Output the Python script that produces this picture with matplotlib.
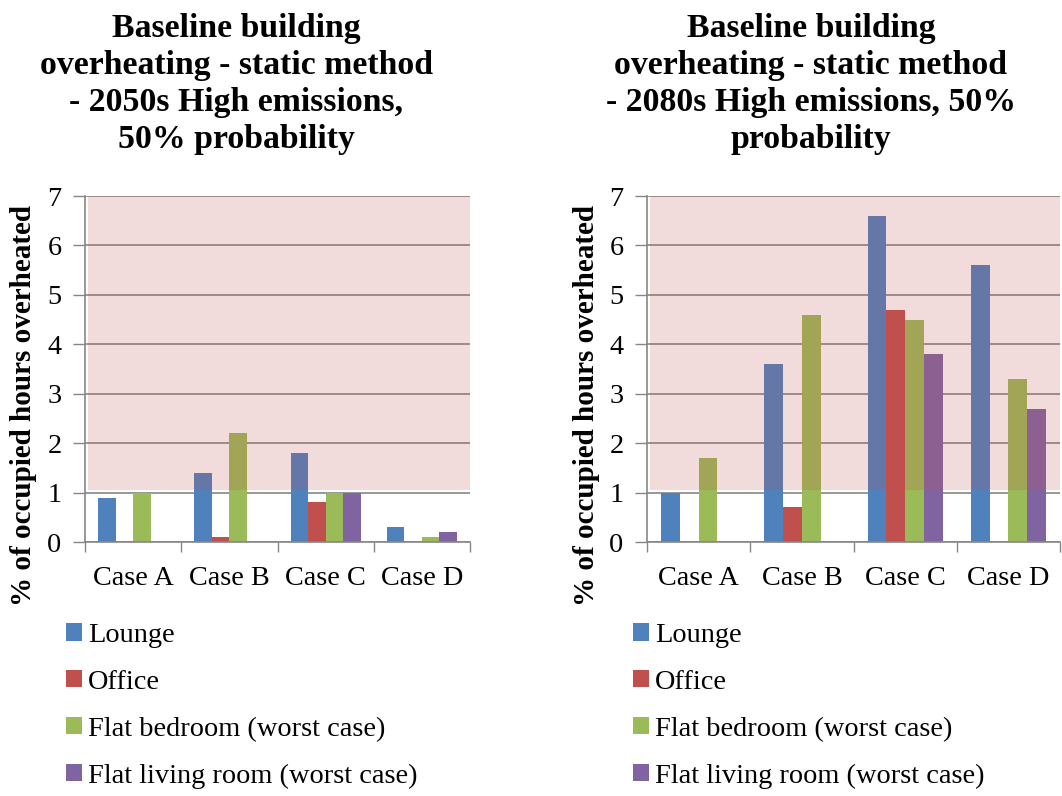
import matplotlib
matplotlib.use("Agg")
import matplotlib.pyplot as plt
import numpy as np
from matplotlib.patches import Rectangle, Patch

plt.rcParams['font.family'] = ['Liberation Serif', 'DejaVu Serif']

categories = ["Case A", "Case B", "Case C", "Case D"]
series_names = ["Lounge", "Office", "Flat bedroom (worst case)", "Flat living room (worst case)"]
colors = ["#4F81BD", "#C0504D", "#9BBB59", "#8064A2"]

# 2050s High emissions, 50% probability
lounge_2050 = [0.9, 1.4, 1.8, 0.3]
office_2050 = [0.0, 0.1, 0.8, 0.0]
bedroom_2050 = [1.0, 2.2, 1.0, 0.1]
living_2050 = [0.0, 0.0, 1.0, 0.2]

# 2080s High emissions, 50% probability
lounge_2080 = [1.0, 3.6, 6.6, 5.6]
office_2080 = [0.0, 0.7, 4.7, 0.0]
bedroom_2080 = [1.7, 4.6, 4.5, 3.3]
living_2080 = [0.0, 0.0, 3.8, 2.7]

titles = [
    "Baseline building\noverheating - static method\n- 2050s High emissions,\n50% probability",
    "Baseline building\noverheating - static method\n- 2080s High emissions, 50%\nprobability",
]
ylabel = "% of occupied hours overheated"
yticks = [0, 1, 2, 3, 4, 5, 6, 7]
threshold = 1.06

W, H = 1062, 796
fig = plt.figure(figsize=(W / 100, H / 100), dpi=100)

grid_color = "#868686"

def px_axes(x0, x1, ytop, ybot):
    return [x0 / W, 1 - ybot / H, (x1 - x0) / W, (ybot - ytop) / H]

# axes rect, data, title x, legend x, ylabel x
panels = [
    (px_axes(85, 470, 196, 542), [lounge_2050, office_2050, bedroom_2050, living_2050], 236, 66, 24),
    (px_axes(647, 1060, 196, 542), [lounge_2080, office_2080, bedroom_2080, living_2080], 811, 633, 586),
]

n = len(series_names)
bw = 1 / 5.5
x = np.arange(len(categories))

for (rect, data, tx, legx, ylx), title in zip(panels, titles):
    ax = fig.add_axes(rect)
    for i, (vals, c) in enumerate(zip(data, colors)):
        ax.bar(x + (i - (n - 1) / 2) * bw, vals, width=bw, color=c, linewidth=0, zorder=2)
    ax.add_patch(Rectangle((-0.47, threshold), 3.97, 7 - threshold, facecolor="#C0504D",
                           alpha=0.2, linewidth=0, zorder=3))
    ax.set_xlim(-0.5, 3.5)
    ax.set_ylim(0, 7)
    ax.set_yticks(yticks)
    ax.set_yticklabels([str(v) for v in yticks], fontsize=20.3)
    ax.set_xticks(x)
    ax.set_xticklabels(categories, fontsize=20.3)
    ax.set_xticks(np.arange(-0.5, 4, 1), minor=True)
    ax.tick_params(axis='x', which='major', length=0, pad=17)
    ax.tick_params(axis='x', which='minor', length=7, width=1, color=grid_color, direction='out')
    ax.tick_params(axis='y', length=9, width=1, color=grid_color, direction='out', pad=8)
    ax.yaxis.grid(True, color=grid_color, linewidth=1.2, zorder=1)
    ax.set_axisbelow(True)
    for s in ["top", "right"]:
        ax.spines[s].set_visible(False)
    for s in ["left", "bottom"]:
        ax.spines[s].set_color(grid_color)
        ax.spines[s].set_linewidth(1.2)
    fig.text(tx / W, 1 - 84 / H, title, fontsize=24.3, fontweight='bold', ha='center', va='center',
             linespacing=1.26)
    fig.text(ylx / W, 1 - 405 / H, ylabel, fontsize=21, fontweight='bold', rotation=90,
             ha='center', va='center')
    handles = [Patch(facecolor=c, edgecolor='none') for c in colors]
    fig.legend(handles, series_names, loc='upper left', bbox_to_anchor=(legx / W, 1 - 623 / H),
               frameon=False, fontsize=20.4, handlelength=0.55, handleheight=0.55,
               handletextpad=0.22, labelspacing=0.77, borderaxespad=0, borderpad=0)

fig.savefig("out.png", dpi=100)
